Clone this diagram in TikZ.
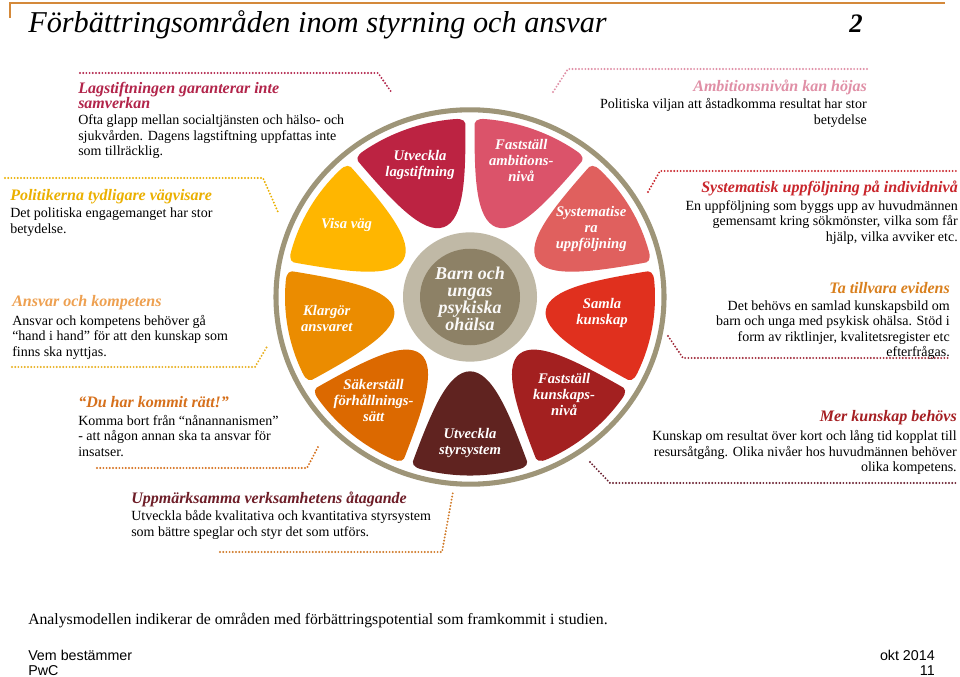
\documentclass[tikz,border=0pt]{standalone}
\usepackage{fontspec}
\setmainfont{Liberation Serif}
\newfontfamily\footfont{Liberation Sans}
\usepackage{tikz}
\usetikzlibrary{positioning}
\definecolor{wheelring}{RGB}{158,149,120}
\definecolor{hubring}{RGB}{192,185,166}
\definecolor{hubdisk}{RGB}{141,129,102}
\definecolor{topbar}{RGB}{212,137,58}
\definecolor{petallag}{RGB}{188,35,66}
\definecolor{petalamb}{RGB}{219,83,106}
\definecolor{petalsys}{RGB}{224,96,94}
\definecolor{petalsamla}{RGB}{224,48,30}
\definecolor{petalniva}{RGB}{163,32,32}
\definecolor{petalstyr}{RGB}{96,35,32}
\definecolor{petalsak}{RGB}{220,105,0}
\definecolor{petalklar}{RGB}{235,140,0}
\definecolor{petalvisa}{RGB}{255,182,0}
\definecolor{hdlag}{RGB}{178,36,74}
\definecolor{hdpol}{RGB}{235,176,0}
\definecolor{hdans}{RGB}{238,160,80}
\definecolor{hddu}{RGB}{214,112,28}
\definecolor{hdupp}{RGB}{110,30,40}
\definecolor{hdamb}{RGB}{224,143,166}
\definecolor{hdsys}{RGB}{201,38,44}
\definecolor{hdevi}{RGB}{217,128,30}
\definecolor{hdmer}{RGB}{165,30,34}
\definecolor{dotans}{RGB}{232,176,32}
\definecolor{dotupp}{RGB}{208,122,40}
\definecolor{dotevi}{RGB}{160,40,56}
\definecolor{dotmer}{RGB}{106,32,48}
\newcommand{\wheelpetal}[5]{%
  \fill[#3] (#2-15:185) arc[start angle=#2-15, end angle=#2+15, radius=185]
    .. controls (#2+18:185.5) and (#2+18.8:182) .. (#2+18.5:176)
    .. controls (#2+18:125) and (#2+15.9:80.1) .. (#2:77)
    .. controls (#2-15.9:80.1) and (#2-18:125) .. (#2-18.5:176)
    .. controls (#2-18.8:182) and (#2-18:185.5) .. cycle;%
  \node[petaltext] (#1) at (#4) {#5};%
}
\newcommand{\leaderline}[4]{%
  \coordinate (#1A) at #2;%
  \coordinate (#1B) at #3;%
  \coordinate (#1C) at #4;%
  \draw[leader,draw=dot#1] (#1A) -- (#1B) -- (#1C);%
}

\begin{document}
\begin{tikzpicture}[x=0.75pt,y=-0.75pt,
    petaltext/.style={text=white,align=center,inner sep=0pt,font=\fontsize{11}{12}\selectfont\bfseries\itshape},
    hubtext/.style={text=white!92!hubring,align=center,inner sep=0pt,font=\fontsize{13.5}{12.9}\selectfont\bfseries\itshape},
    infohead/.style={inner sep=0pt,font=\fontsize{12}{11.6}\selectfont\bfseries\itshape},
    infobody/.style={inner sep=0pt,font=\fontsize{10.5}{11.6}\selectfont},
    leader/.style={line width=1.6pt,dash pattern=on 0pt off 2.4pt,line cap=round}]
  \useasboundingbox (0,0) rectangle (960,677);
  \fill[white] (0,0) rectangle (960,677);
  \coordinate (barL) at (10,18);
  \coordinate (barTL) at (10,3);
  \coordinate (barR) at (945,3);
  \draw[topbar,line width=1.5pt] (barL) -- (barTL) -- (barR);
  \node[anchor=base west,inner sep=0pt,font=\fontsize{22.7}{24}\selectfont\itshape] (title) at (28,33) {Förbättringsområden inom styrning och ansvar};
  \node[anchor=base,inner sep=0pt,font=\fontsize{20}{24}\selectfont\bfseries\itshape] (pagenr) at (856,33) {2};

  \begin{scope}[shift={(470,297)},yscale=-0.965]
    \draw[wheelring,line width=3.8pt] (0,0) circle[radius=194];
    \wheelpetal{lagpetal}{110}{petallag}{110:146}{Utveckla\\lagstiftning}
    \wheelpetal{ambpetal}{70}{petalamb}{70:150}{Fastställ\\ambitions-\\nivå}
    \wheelpetal{syspetal}{30}{petalsys}{30:140}{Systematise\\ra\\uppföljning}
    \wheelpetal{samlapetal}{-10}{petalsamla}{-7:133}{Samla\\kunskap}
    \wheelpetal{nivapetal}{-50}{petalniva}{-47:138}{Fastställ\\kunskaps-\\nivå}
    \wheelpetal{styrpetal}{-90}{petalstyr}{-90:151}{Utveckla\\styrsystem}
    \wheelpetal{sakpetal}{-130}{petalsak}{-132:144}{Säkerställ\\förhållnings-\\sätt}
    \wheelpetal{klarpetal}{-170}{petalklar}{-171:145}{Klargör\\ansvaret}
    \wheelpetal{visapetal}{150}{petalvisa}{149:144}{Visa väg}
    \fill[hubring] (0,0) circle[radius=67];
    \fill[hubdisk] (0,0) circle[radius=50];
    \node[hubtext] (hub) at (0,-2) {Barn och\\ungas\\psykiska\\ohälsa};
  \end{scope}

  \node[infohead,text=hdlag,anchor=west,align=left] (lagHead) at (78,95.5) {Lagstiftningen garanterar inte\\samverkan};
  \node[infobody,anchor=west,align=left] (lagBody) at (78,137) {Ofta glapp mellan socialtjänsten och hälso- och\\sjukvården. Dagens lagstiftning uppfattas inte\\som tillräcklig.};
  \node[infohead,text=hdpol,anchor=west,align=left] (polHead) at (10,197) {Politikerna tydligare vägvisare};
  \node[infobody,anchor=west,align=left] (polBody) at (10,222) {Det politiska engagemanget har stor\\betydelse.};
  \node[infohead,text=hdans,anchor=west,align=left] (ansHead) at (12,303) {Ansvar och kompetens};
  \node[infobody,anchor=west,align=left] (ansBody) at (12,337) {Ansvar och kompetens behöver gå\\“hand i hand” för att den kunskap som\\finns ska nyttjas.};
  \node[infohead,text=hddu,anchor=west,align=left] (duHead) at (78,402) {“Du har kommit rätt!”};
  \node[infobody,anchor=west,align=left] (duBody) at (78,436) {Komma bort från “nånannanismen”\\- att någon annan ska ta ansvar för\\insatser.};
  \node[infohead,text=hdupp,anchor=west,align=left] (uppHead) at (131,499) {Uppmärksamma verksamhetens åtagande};
  \node[infobody,anchor=west,align=left] (uppBody) at (131,525) {Utveckla både kvalitativa och kvantitativa styrsystem\\som bättre speglar och styr det som utförs.};
  \node[infohead,text=hdamb,anchor=east,align=right] (ambHead) at (867,87) {Ambitionsnivån kan höjas};
  \node[infobody,anchor=east,align=right] (ambBody) at (867,113) {Politiska viljan att åstadkomma resultat har stor\\betydelse};
  \node[infohead,text=hdsys,anchor=east,align=right] (sysHead) at (958,188) {Systematisk uppföljning på individnivå};
  \node[infobody,anchor=east,align=right] (sysBody) at (958,222.5) {En uppföljning som byggs upp av huvudmännen\\gemensamt kring sökmönster, vilka som får\\hjälp, vilka avviker etc.};
  \node[infohead,text=hdevi,anchor=east,align=right] (eviHead) at (950,288) {Ta tillvara evidens};
  \node[infobody,anchor=east,align=right] (eviBody) at (950,330) {Det behövs en samlad kunskapsbild om\\barn och unga med psykisk ohälsa. Stöd i\\form av riktlinjer, kvalitetsregister etc\\efterfrågas.};
  \node[infohead,text=hdmer,anchor=east,align=right] (merHead) at (957,418) {Mer kunskap behövs};
  \node[infobody,anchor=east,align=right] (merBody) at (957,452.5) {Kunskap om resultat över kort och lång tid kopplat till\\resursåtgång. Olika nivåer hos huvudmännen behöver\\olika kompetens.};

  \colorlet{dotlag}{hdlag}
  \colorlet{dotpol}{hdpol}
  \colorlet{dotdu}{hddu}
  \colorlet{dotamb}{hdamb}
  \colorlet{dotsys}{hdsys}
  \leaderline{lag}{(80,73)}{(378,73)}{(392,93)}
  \leaderline{pol}{(5,178)}{(263,178)}{(278,212)}
  \leaderline{ans}{(12,367)}{(255,367)}{(268,345)}
  \leaderline{du}{(97,468)}{(307,468)}{(318,447)}
  \leaderline{upp}{(220,552)}{(442,552)}{(453,492)}
  \leaderline{amb}{(553,92)}{(568,69)}{(867,69)}
  \leaderline{sys}{(648,192)}{(660,171)}{(958,171)}
  \leaderline{evi}{(668,336)}{(683,358)}{(950,358)}
  \leaderline{mer}{(590,462)}{(610,483)}{(957,483)}

  \node[anchor=west,inner sep=0pt,font=\fontsize{11.8}{13}\selectfont] (summary) at (28,620) {Analysmodellen indikerar de områden med förbättringspotential som framkommit i studien.};
  \node[anchor=west,inner sep=0pt,font=\footfont\fontsize{10.7}{12}\selectfont] (footL1) at (28,655) {Vem bestämmer};
  \node[anchor=west,inner sep=0pt,font=\footfont\fontsize{10.7}{12}\selectfont] (footL2) at (28,671) {PwC};
  \node[anchor=east,inner sep=0pt,font=\footfont\fontsize{10.7}{12}\selectfont] (footR1) at (935,655) {okt 2014};
  \node[anchor=east,inner sep=0pt,font=\footfont\fontsize{10.7}{12}\selectfont] (footR2) at (935,671) {11};
\end{tikzpicture}
\end{document}
